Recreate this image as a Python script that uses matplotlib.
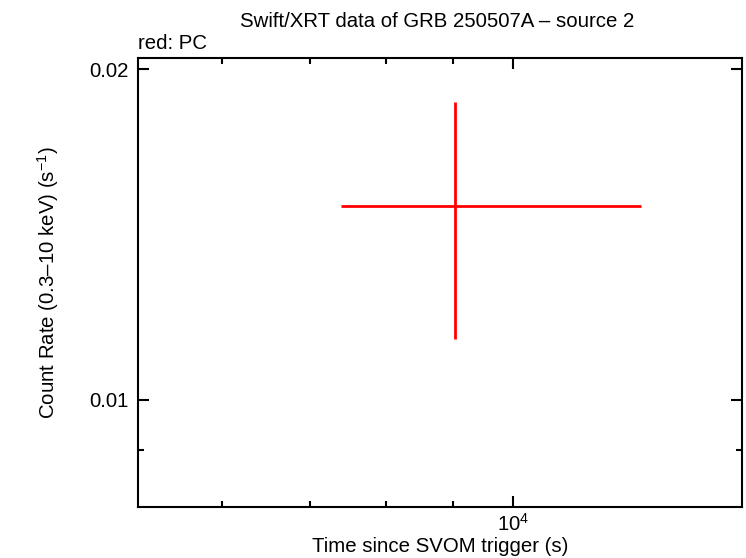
import matplotlib
matplotlib.use('Agg')
import matplotlib.pyplot as plt
from matplotlib.ticker import NullFormatter, FixedLocator, FixedFormatter

# data (PC mode)
t = [9030.0]
t_lo = [7390.0]
t_hi = [12520.0]
rate = [0.01501]
rate_lo = [0.01135]
rate_hi = [0.01867]

plt.rcParams['font.family'] = ['Liberation Sans', 'DejaVu Sans']
plt.rcParams['mathtext.fontset'] = 'custom'
plt.rcParams['mathtext.rm'] = 'Liberation Sans'
plt.rcParams['mathtext.it'] = 'Liberation Sans'

FS = 14.7

fig = plt.figure(figsize=(7.46, 5.58), dpi=100)
ax = fig.add_axes([0.185, 0.0914, 0.8096, 0.8046])

xerr = [[t[i] - t_lo[i] for i in range(len(t))], [t_hi[i] - t[i] for i in range(len(t))]]
yerr = [[rate[i] - rate_lo[i] for i in range(len(t))], [rate_hi[i] - rate[i] for i in range(len(t))]]
ax.errorbar(t, rate, xerr=xerr, yerr=yerr, fmt='none', ecolor='#ff0000', elinewidth=2, capsize=0)

ax.set_xscale('log')
ax.set_yscale('log')
ax.set_xlim(5175, 14960)
ax.set_ylim(0.00799, 0.02047)

ax.xaxis.set_major_locator(FixedLocator([1e4]))
ax.xaxis.set_major_formatter(FixedFormatter(['10$^{4}$']))
ax.xaxis.set_minor_locator(FixedLocator([6000, 7000, 8000, 9000]))
ax.xaxis.set_minor_formatter(NullFormatter())
ax.yaxis.set_major_locator(FixedLocator([0.01, 0.02]))
ax.yaxis.set_major_formatter(FixedFormatter(['0.01', '0.02']))
ax.yaxis.set_minor_locator(FixedLocator([0.009]))
ax.yaxis.set_minor_formatter(NullFormatter())

ax.tick_params(which='both', direction='in', top=True, right=True, width=1.5, labelsize=FS)
ax.tick_params(which='major', length=8)
ax.tick_params(which='minor', length=4)
ax.tick_params(axis='y', pad=7)
ax.tick_params(axis='x', pad=4)
for s in ax.spines.values():
    s.set_linewidth(1.5)

ax.set_xlabel('Time since SVOM trigger (s)', fontsize=FS, labelpad=1.5)
ax.set_ylabel('Count Rate (0.3\u201310 keV) (s$^{-1}$)', fontsize=FS, labelpad=20)
fig.text(0.586, 0.962, 'Swift/XRT data of GRB 250507A \u2013 source 2', ha='center', va='center', fontsize=FS)
fig.text(0.185, 0.922, 'red: PC', ha='left', va='center', fontsize=FS)

fig.savefig('out.png', dpi=100)
